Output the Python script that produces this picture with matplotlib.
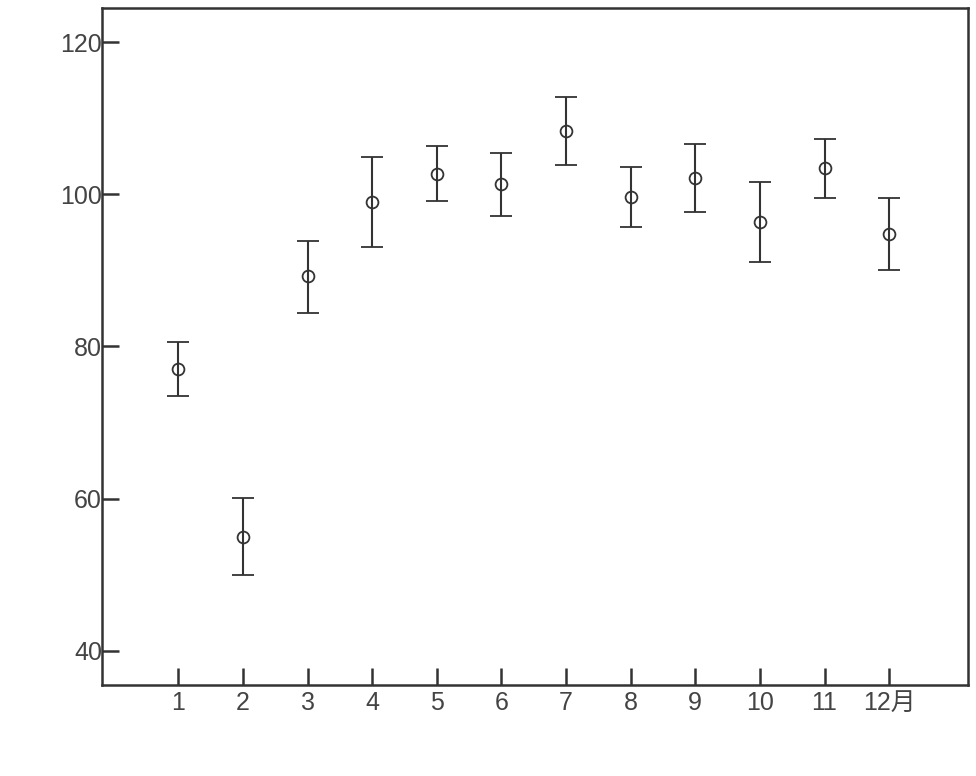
import numpy as np
import matplotlib.pyplot as plt

plt.rcParams['font.family'] = ['Liberation Sans', 'Noto Sans CJK SC', 'DejaVu Sans']

# month index, mean and error bar ends
months = np.arange(1, 13)
month_labels = ['1', '2', '3', '4', '5', '6', '7', '8', '9', '10', '11', '12月']
means = [77.1, 55.0, 89.3, 99.0, 102.7, 101.4, 108.3, 99.6, 102.1, 96.4, 103.5, 94.8]
upper = [80.6, 60.1, 93.9, 104.9, 106.3, 105.4, 112.8, 103.6, 106.6, 101.6, 107.3, 99.5]
lower = [73.5, 50.0, 84.4, 93.1, 99.1, 97.1, 103.8, 95.7, 97.7, 91.1, 99.5, 90.1]

means = np.array(means)
yerr = [means - np.array(lower), np.array(upper) - means]

line_col = '#333333'
text_col = '#444444'

fig = plt.figure(figsize=(9.76, 7.76), dpi=100)
ax = fig.add_axes([0.1045, 0.1173, 0.8873, 0.8724])

ax.errorbar(months, means, yerr=yerr, fmt='o', mfc='none', mec=line_col, ms=8.5,
            mew=1.3, ecolor=line_col, elinewidth=1.5, capsize=8, capthick=1.5)

ax.set_xlim(-0.18, 13.22)
ax.set_ylim(35.5, 124.5)
ax.set_xticks(months)
ax.set_xticklabels(month_labels)
ax.set_yticks([40, 60, 80, 100, 120])

for s in ax.spines.values():
    s.set_color(line_col)
    s.set_linewidth(1.8)

ax.tick_params(axis='both', direction='in', length=12, width=1.8, color=line_col,
               labelsize=18, labelcolor=text_col)
ax.tick_params(axis='y', pad=0)
ax.tick_params(axis='x', pad=4)

fig.savefig('out.png', dpi=100)
